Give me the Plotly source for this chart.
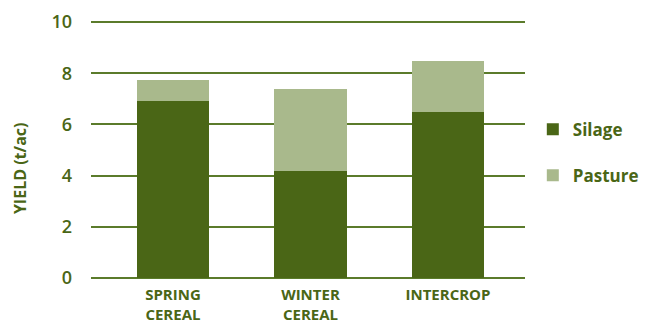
import plotly.graph_objects as go

categories = ["SPRING<br>CEREAL", "WINTER<br>CEREAL", "INTERCROP"]
silage = [6.9, 4.2, 6.5]
pasture = [0.85, 3.2, 2.0]
y_ticks = [0, 2, 4, 6, 8, 10]

DARK = "#4a6616"
LIGHT = "#a9b98c"
TEXT = "#4a6616"
GRID = "#5b7b2b"
FONT = "'Open Sans', sans-serif"

fig = go.Figure()
fig.add_trace(go.Bar(x=[0, 1, 2], y=silage, marker=dict(color=DARK, line=dict(width=0)),
                     width=0.524, showlegend=False, name="Silage"))
fig.add_trace(go.Bar(x=[0, 1, 2], y=pasture, marker=dict(color=LIGHT, line=dict(width=0)),
                     width=0.524, showlegend=False, name="Pasture"))
# legend entries
fig.add_trace(go.Scatter(x=[None], y=[None], mode="markers", name="Silage", legendgroup="a",
                         marker=dict(symbol="square", size=17, color=DARK)))
fig.add_trace(go.Scatter(x=[None], y=[None], mode="markers", name="Pasture", legendgroup="b",
                         marker=dict(symbol="square", size=17, color=LIGHT)))

fig.update_layout(
    width=651, height=322,
    margin=dict(l=91, r=126, t=17, b=44, autoexpand=False),
    barmode="stack",
    plot_bgcolor="white", paper_bgcolor="white",
    font=dict(family=FONT, color=TEXT),
    bargap=0,
    legend=dict(x=1.018, xanchor="left", y=0.48, yanchor="middle",
                traceorder="grouped", tracegroupgap=21,
                font=dict(size=17, color=TEXT, family=FONT, weight="bold"),
                itemsizing="constant"),
    xaxis=dict(range=[-0.596, 2.56], tickmode="array", tickvals=[0, 1, 2], ticktext=categories,
               showgrid=False, zeroline=False, showline=False, ticks="", automargin=False,
               ticklabelstandoff=6,
               tickfont=dict(size=15, color=TEXT, family=FONT, weight="bold"), fixedrange=True),
    yaxis=dict(range=[0, 10.2], tickmode="array", tickvals=y_ticks, automargin=False,
               showgrid=True, gridcolor=GRID, gridwidth=2,
               zeroline=True, zerolinecolor=GRID, zerolinewidth=2,
               showline=False, ticks="", ticklabelstandoff=18,
               tickfont=dict(size=18, color=TEXT, family=FONT, weight=600)),
    annotations=[dict(text="YIELD (t/ac)", xref="paper", yref="paper",
                      x=-0.1636, y=0.421, xanchor="center", yanchor="middle",
                      textangle=-90, showarrow=False,
                      font=dict(size=16, color=TEXT, family=FONT, weight="bold"))],
)

fig.write_html("out.html")
